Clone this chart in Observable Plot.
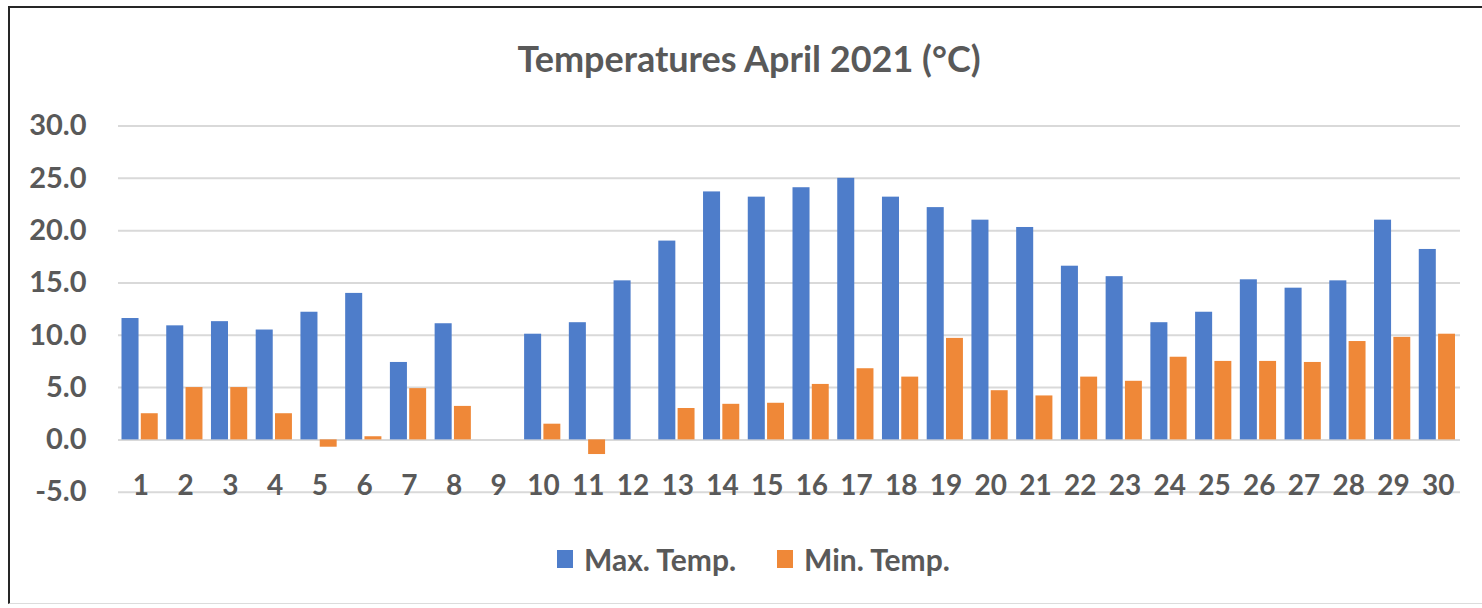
<!DOCTYPE html>
<html>
<head>
<meta charset="utf-8">
<script src="https://cdn.jsdelivr.net/npm/d3@7"></script>
<script src="https://cdn.jsdelivr.net/npm/@observablehq/plot@0.6"></script>
<style>
  html, body { margin: 0; padding: 0; background: #fff; overflow: hidden; width: 1482px; height: 608px; }
  #frame { position: absolute; left: 8px; top: 6px; width: 1482px; height: 598px;
           border-left: 2px solid #262626; border-top: 2px solid #262626; border-bottom: 1px solid #dcdcdc; box-sizing: border-box; }
  #title { position: absolute; left: 8px; width: 1482px; top: 36px; text-align: center;
           font-family: Lato, sans-serif; font-weight: bold; font-size: 36px; color: #595959; line-height: 44px; }
  #chart { position: absolute; left: 0; top: 100px; }
  .leg { position: absolute; top: 542px; height: 34px; display: flex; align-items: center;
         font-family: Lato, sans-serif; font-weight: bold; font-size: 30px; color: #595959; }
  .sw { width: 16px; height: 18px; margin-right: 11px; }
</style>
</head>
<body>
<div id="frame"></div>
<div id="title">Temperatures April 2021 (°C)</div>
<div id="chart"></div>
<div id="legend"></div>
<script>
const days = [1,2,3,4,5,6,7,8,9,10,11,12,13,14,15,16,17,18,19,20,21,22,23,24,25,26,27,28,29,30];
const maxTemp = [11.6,10.9,11.3,10.5,12.2,14.0,7.4,11.1,null,10.1,11.2,15.2,19.0,23.7,23.2,24.1,25.0,23.2,22.2,21.0,20.3,16.6,15.6,11.2,12.2,15.3,14.5,15.2,21.0,18.2];
const minTemp = [2.5,5.0,5.0,2.5,-0.7,0.3,4.9,3.2,null,1.5,-1.4,null,3.0,3.4,3.5,5.3,6.8,6.0,9.7,4.7,4.2,6.0,5.6,7.9,7.5,7.5,7.4,9.4,9.8,10.1];
const yTicks = [-5,0,5,10,15,20,25,30];
const seriesNames = ["Max. Temp.", "Min. Temp."];
const seriesColors = ["#4E7DCA", "#EF8838"];

const rows = days.map((d, i) => ({day: d, max: maxTemp[i], min: minTemp[i]}));

const chart = Plot.plot({
  width: 1482,
  height: 420,
  marginTop: 25.5,
  marginBottom: 28.3,
  marginLeft: 118,
  marginRight: 22,
  style: {fontFamily: "Lato, sans-serif", fontWeight: "bold", fontSize: "28px", color: "#595959", background: "transparent", overflow: "visible"},
  x: {type: "band", domain: days, padding: 0, round: false, label: null},
  y: {domain: [-5, 30], label: null},
  marks: [
    Plot.gridY(yTicks, {stroke: "#d9d9d9", strokeOpacity: 1, strokeWidth: 2}),
    Plot.axisY(yTicks, {tickSize: 0, tickPadding: 32, tickFormat: d => d.toFixed(1), fontSize: 29, label: null}),
    Plot.axisX({tickSize: 0, tickPadding: -6, lineAnchor: "middle", label: null}),
    Plot.barY(rows, {x: "day", y: "max", fill: seriesColors[0], insetLeft: 3.5, insetRight: 24.2}),
    Plot.barY(rows, {x: "day", y: "min", fill: seriesColors[1], insetLeft: 22.8, insetRight: 5})
  ]
});
document.getElementById("chart").appendChild(chart);

const legend = document.getElementById("legend");
const lefts = [557, 777];
seriesNames.forEach((name, i) => {
  const item = document.createElement("div");
  item.className = "leg";
  item.style.left = lefts[i] + "px";
  const sw = document.createElement("div");
  sw.className = "sw";
  sw.style.background = seriesColors[i];
  const t = document.createElement("span");
  t.textContent = name;
  item.appendChild(sw);
  item.appendChild(t);
  legend.appendChild(item);
});
</script>
</body>
</html>
